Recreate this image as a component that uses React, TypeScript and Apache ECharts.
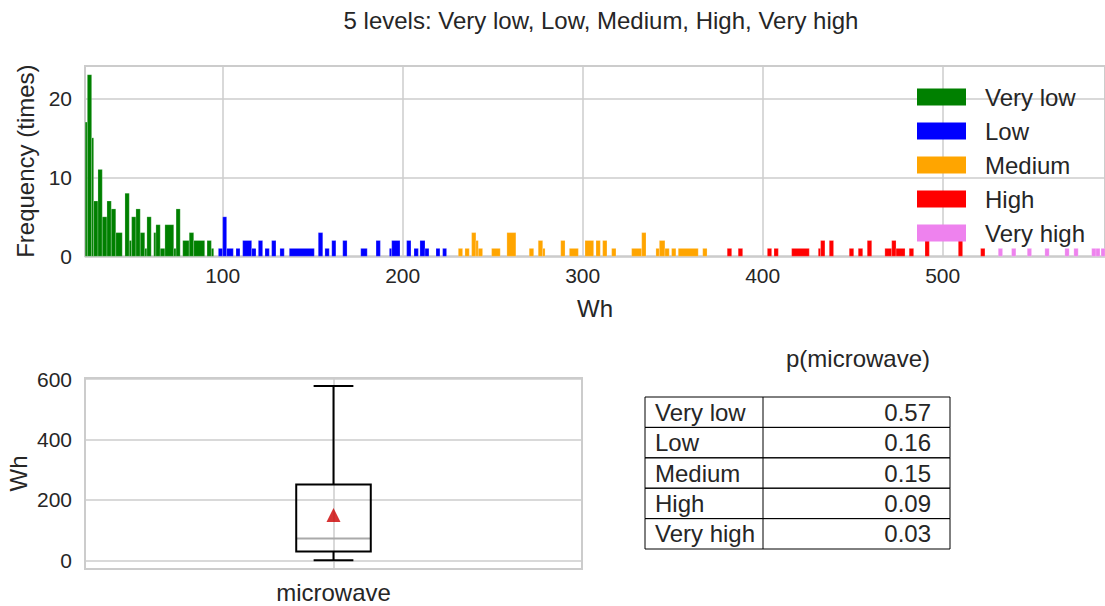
import React, { useEffect, useRef } from 'react';
import * as echarts from 'echarts';

const TITLE = '5 levels: Very low, Low, Medium, High, Very high';
const LEVELS = ['Very low', 'Low', 'Medium', 'High', 'Very high'];
const LEVEL_COLORS = ['#008000', '#0000ff', '#ffa500', '#ff0000', '#ee82ee'];
const PROBS = ['0.57', '0.16', '0.15', '0.09', '0.03'];
const TABLE_TITLE = 'p(microwave)';
const BOX_CATEGORY = 'microwave';

// histogram bars: [startWh, endWh, count]
const veryLowBars = [
  [23.6, 24.8, 17], [24.8, 27.2, 23], [27.2, 28.3, 15], [28.3, 30.7, 7], [30.7, 33.1, 11],
  [33.1, 35.7, 5], [35.7, 38.1, 7], [38.1, 40.6, 6], [40.6, 44.2, 3], [45.7, 48.1, 8],
  [48.1, 49.4, 2], [49.4, 51.8, 5], [51.8, 54.2, 6], [54.2, 56.7, 3], [56.7, 57.9, 1],
  [57.9, 60.3, 5], [61.7, 62.9, 3], [62.9, 65.3, 4], [65.3, 67.9, 1], [67.9, 72.8, 4],
  [72.8, 74.1, 1], [74.1, 76.4, 6], [77.8, 81.4, 2], [81.4, 83.9, 3], [83.9, 90.0, 2],
  [91.3, 93.7, 2], [93.7, 95.0, 1],
];
const lowBars = [
  [97.6, 100.0, 1], [100.0, 102.2, 5], [102.2, 105.9, 1], [107.4, 109.6, 1], [111.1, 116.1, 2],
  [116.1, 118.5, 1], [119.8, 122.2, 2], [123.5, 125.9, 1], [127.2, 129.6, 2], [131.8, 134.2, 1],
  [137.0, 150.9, 1], [153.1, 155.6, 3], [156.8, 159.2, 1], [160.6, 162.9, 2], [166.7, 169.1, 2],
  [176.7, 180.3, 1], [185.2, 187.6, 2], [192.6, 193.9, 1], [193.9, 198.5, 2], [202.2, 204.6, 2],
  [206.3, 208.7, 1], [209.6, 212.4, 2], [212.4, 214.6, 1], [218.5, 220.7, 1], [222.2, 224.4, 1],
];
const mediumBars = [
  [230.9, 233.3, 1], [234.6, 237.0, 1], [238.3, 240.7, 3], [240.7, 242.0, 2], [242.0, 244.4, 1],
  [249.4, 254.2, 1], [257.9, 262.9, 3], [270.3, 272.8, 1], [275.3, 277.8, 2], [277.8, 279.1, 1],
  [287.8, 290.2, 2], [292.6, 297.6, 1], [301.3, 306.1, 2], [307.4, 309.8, 2], [311.1, 313.5, 2],
  [316.1, 318.5, 1], [327.2, 332.8, 1], [332.8, 335.2, 3], [340.7, 342.6, 1], [342.6, 345.7, 2],
  [345.7, 348.1, 1], [349.4, 351.8, 1], [353.1, 364.2, 1], [366.7, 369.1, 1],
];
const highBars = [
  [380.3, 382.8, 1], [386.4, 388.9, 1], [402.6, 405.0, 1], [406.3, 408.7, 1], [416.1, 425.9, 1],
  [430.9, 432.2, 1], [432.2, 434.6, 2], [437.0, 439.4, 2], [448.1, 450.6, 1], [453.1, 455.6, 1],
  [458.1, 460.6, 2], [467.9, 471.7, 1], [471.7, 474.1, 2], [474.1, 479.1, 1], [481.4, 483.9, 1],
  [490.2, 492.6, 2], [508.7, 511.1, 2], [521.1, 523.5, 1],
];
const veryHighBars = [
  [530.9, 533.3, 1], [538.3, 540.7, 1], [547.0, 549.4, 1], [556.8, 559.2, 1], [567.9, 570.3, 1],
  [572.9, 575.3, 1], [582.8, 585.2, 1], [585.2, 587.4, 1], [588.0, 590.2, 1],
];
const HIST_BARS = [veryLowBars, lowBars, mediumBars, highBars, veryHighBars];

const histXTicks = [100, 200, 300, 400, 500];
const histYTicks = [0, 10, 20];
const boxYTicks = [0, 200, 400, 600];
// [x, lower whisker, Q1, median, Q3, upper whisker]
const boxStats = [[1, 0, 29, 72, 251, 577]];
const boxMean = [[1, 150]];

const FONT = '"Liberation Sans", Arial, Helvetica, sans-serif';
const TXT = '#262626';
const GRIDC = '#cccccc';
const TICK_FS = 21;
const LABEL_FS = 24;

export default function App() {
  const ref = useRef<HTMLDivElement>(null);
  useEffect(() => {
    if (!ref.current) return;
    const chart = echarts.init(ref.current, undefined, { renderer: 'svg' });

    const histSeries = LEVELS.map((name, i) => ({
      name,
      type: 'custom',
      xAxisIndex: 0,
      yAxisIndex: 0,
      itemStyle: { color: LEVEL_COLORS[i] },
      encode: { x: [0, 1], y: 2 },
      data: HIST_BARS[i],
      renderItem: (params: any, api: any) => {
        const p0 = api.coord([api.value(0), api.value(2)]);
        const p1 = api.coord([api.value(1), 0]);
        return {
          type: 'rect',
          shape: { x: p0[0], y: p0[1], width: p1[0] - p0[0], height: p1[1] - p0[1] },
          style: { fill: LEVEL_COLORS[i], stroke: 'rgba(255,255,255,0.35)', lineWidth: 0.6 },
        };
      },
    }));

    const tableX = 645, tableY = 397, tableW = 305, rowH = 30.4, colX = 763;
    const tableEls: any[] = [
      {
        type: 'text', x: 858, y: 358,
        style: { text: TABLE_TITLE, font: `${LABEL_FS}px ${FONT}`, fill: TXT, align: 'center', verticalAlign: 'middle' },
      },
    ];
    LEVELS.forEach((lv, i) => {
      const y = tableY + i * rowH;
      tableEls.push({
        type: 'rect', shape: { x: tableX, y, width: tableW, height: rowH },
        style: { fill: 'none', stroke: '#000', lineWidth: 1 },
      });
      tableEls.push({
        type: 'line', shape: { x1: colX, y1: y, x2: colX, y2: y + rowH },
        style: { stroke: '#000', lineWidth: 1 },
      });
      tableEls.push({
        type: 'text', x: 655, y: y + rowH / 2,
        style: { text: lv, font: `${LABEL_FS}px ${FONT}`, fill: TXT, verticalAlign: 'middle' },
      });
      tableEls.push({
        type: 'text', x: 931, y: y + rowH / 2,
        style: { text: PROBS[i], font: `${LABEL_FS}px ${FONT}`, fill: TXT, align: 'right', verticalAlign: 'middle' },
      });
    });

    const option: any = {
      animation: false,
      backgroundColor: '#ffffff',
      textStyle: { fontFamily: FONT, color: TXT },
      title: {
        text: TITLE, left: 596, top: 3, textAlign: 'center',
        textStyle: { fontFamily: FONT, fontSize: LABEL_FS, fontWeight: 'normal', color: TXT },
      },
      legend: {
        orient: 'vertical', left: 912, top: 80, itemWidth: 49, itemHeight: 17, itemGap: 10,
        icon: 'rect', data: LEVELS,
        textStyle: { fontFamily: FONT, fontSize: LABEL_FS, color: TXT, padding: [0, 0, 0, 14] },
      },
      grid: [
        { left: 85, top: 66, right: 0, height: 190.3, show: true, borderColor: GRIDC, borderWidth: 2, backgroundColor: 'transparent' },
        { left: 85, top: 378, width: 497, height: 191, show: true, borderColor: GRIDC, borderWidth: 2, backgroundColor: 'transparent' },
      ],
      xAxis: [
        {
          gridIndex: 0, type: 'value', min: 23.5, max: 590.2,
          name: 'Wh', nameLocation: 'middle', nameGap: 40,
          nameTextStyle: { fontFamily: FONT, fontSize: LABEL_FS, color: TXT },
          axisLine: { show: false }, axisTick: { show: false, customValues: histXTicks },
          axisLabel: { customValues: histXTicks, fontSize: TICK_FS, color: TXT, margin: 9, fontFamily: FONT },
          splitLine: { show: true, lineStyle: { color: GRIDC, width: 1.5 } },
        },
        {
          gridIndex: 1, type: 'value', min: 0.5, max: 1.5, interval: 0.5,
          axisLine: { show: false }, axisTick: { show: false },
          axisLabel: {
            formatter: (v: number) => (v === 1 ? BOX_CATEGORY : ''), fontSize: LABEL_FS, color: TXT, margin: 11, fontFamily: FONT,
          },
          splitLine: { show: true, lineStyle: { color: GRIDC, width: 1.5 } },
        },
      ],
      yAxis: [
        {
          gridIndex: 0, type: 'value', min: 0, max: 24.1,
          name: 'Frequency (times)', nameLocation: 'middle', nameGap: 43,
          nameTextStyle: { fontFamily: FONT, fontSize: LABEL_FS, color: TXT },
          axisLine: { show: false }, axisTick: { show: false, customValues: histYTicks },
          axisLabel: { customValues: histYTicks, fontSize: TICK_FS, color: TXT, margin: 13, fontFamily: FONT },
          splitLine: { show: true, lineStyle: { color: GRIDC, width: 1.5 } },
        },
        {
          gridIndex: 1, type: 'value', min: -28.75, max: 603.75,
          name: 'Wh', nameLocation: 'middle', nameGap: 55,
          nameTextStyle: { fontFamily: FONT, fontSize: LABEL_FS, color: TXT },
          axisLine: { show: false }, axisTick: { show: false, customValues: boxYTicks },
          axisLabel: { customValues: boxYTicks, fontSize: TICK_FS, color: TXT, margin: 13, fontFamily: FONT },
          splitLine: { show: true, lineStyle: { color: GRIDC, width: 1.5 } },
        },
      ],
      series: [
        ...histSeries,
        {
          name: 'box', type: 'custom', xAxisIndex: 1, yAxisIndex: 1,
          encode: { x: 0, y: [1, 2, 3, 4, 5] },
          data: boxStats,
          renderItem: (params: any, api: any) => {
            const x = api.value(0);
            const hw = 0.075, cw = 0.04;
            const xl = api.coord([x - hw, 0])[0];
            const xr = api.coord([x + hw, 0])[0];
            const xc = api.coord([x, 0])[0];
            const cl = api.coord([x - cw, 0])[0];
            const cr = api.coord([x + cw, 0])[0];
            const ymn = api.coord([x, api.value(1)])[1];
            const yq1 = api.coord([x, api.value(2)])[1];
            const ymd = api.coord([x, api.value(3)])[1];
            const yq3 = api.coord([x, api.value(4)])[1];
            const ymx = api.coord([x, api.value(5)])[1];
            const st = { stroke: '#000', lineWidth: 2 };
            return {
              type: 'group',
              children: [
                { type: 'line', shape: { x1: xc, y1: yq3, x2: xc, y2: ymx }, style: st },
                { type: 'line', shape: { x1: xc, y1: yq1, x2: xc, y2: ymn }, style: st },
                { type: 'line', shape: { x1: cl, y1: ymx, x2: cr, y2: ymx }, style: st },
                { type: 'line', shape: { x1: cl, y1: ymn, x2: cr, y2: ymn }, style: st },
                { type: 'line', shape: { x1: xl, y1: ymd, x2: xr, y2: ymd }, style: { stroke: '#aaaaaa', lineWidth: 2 } },
                { type: 'rect', shape: { x: xl, y: yq3, width: xr - xl, height: yq1 - yq3 }, style: { fill: 'none', stroke: '#000', lineWidth: 2 } },
              ],
            };
          },
        },
        {
          name: 'mean', type: 'scatter', xAxisIndex: 1, yAxisIndex: 1,
          symbol: 'triangle', symbolSize: 14, itemStyle: { color: '#cc0000' },
          data: boxMean,
        },
      ],
      graphic: tableEls,
    };
    chart.setOption(option);
    return () => chart.dispose();
  }, []);
  return <div ref={ref} style={{ position: 'fixed', left: 0, top: 0, width: 1105, height: 606 }} />;
}
